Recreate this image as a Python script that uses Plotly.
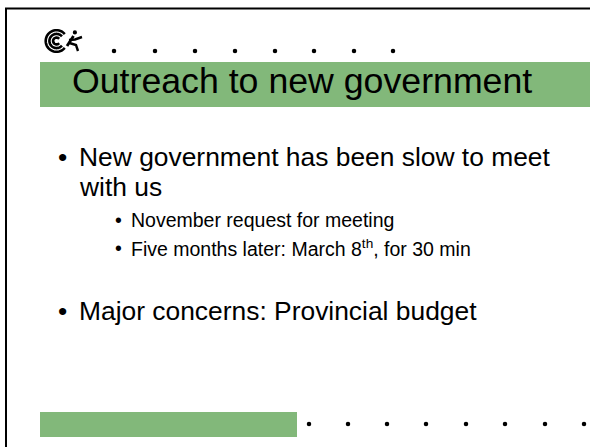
import numpy as np
import plotly.graph_objects as go

# slide text
title = "Outreach to new government"
bullets = ["New government has been slow to meet", "with us"]
sub_bullets = ["November request for meeting",
               "Five months later: March 8<sup>th</sup>, for 30 min"]
last_bullet = "Major concerns: Provincial budget"

# dotted rules
top_dots_x = [114, 155, 195, 235, 275, 314, 354, 393]
bottom_dots_x = [309, 348, 387, 426, 466, 505, 545, 584]

W, H = 590, 447
green = "#82B87A"
font = "Liberation Sans, Arial, sans-serif"

fig = go.Figure()

fig.add_trace(go.Scatter(x=top_dots_x, y=[51] * len(top_dots_x), mode="markers",
                         marker=dict(size=4.5, color="black"), hoverinfo="skip"))
fig.add_trace(go.Scatter(x=bottom_dots_x, y=[424] * len(bottom_dots_x), mode="markers",
                         marker=dict(size=4.5, color="black"), hoverinfo="skip"))

shapes = []
# slide border (left + top)
shapes.append(dict(type="path", path="M 6 447 L 6 8.5 L 590 8.5",
                   line=dict(color="black", width=2)))
# title bar and footer bar
shapes.append(dict(type="rect", x0=40, x1=590, y0=62, y1=107,
                   fillcolor=green, line=dict(width=0), layer="below"))
shapes.append(dict(type="rect", x0=40, x1=297, y0=412, y1=437,
                   fillcolor=green, line=dict(width=0), layer="below"))


# logo: concentric arcs with a little runner
def arc(cx, cy, r, a0=40, a1=320, n=40):
    t = np.radians(np.linspace(a0, a1, n))
    pts = [f"{cx + r*np.cos(a):.2f} {cy + r*np.sin(a):.2f}" for a in t]
    return "M " + " L ".join(pts)


for r in [3.4, 7.1, 10.8]:
    shapes.append(dict(type="path", path=arc(56.5, 41, r),
                       line=dict(color="black", width=2.6)))
shapes.append(dict(type="circle", x0=72.8, x1=77, y0=30.3, y1=34.5,
                   fillcolor="black", line=dict(width=0)))
shapes.append(dict(type="path", path="M 73.5 36 L 67 46",
                   line=dict(color="black", width=2.8)))
shapes.append(dict(type="path", path="M 69 40 L 75 39.5 L 82 37",
                   line=dict(color="black", width=2.4)))
shapes.append(dict(type="path", path="M 69.5 43 L 76 45 L 78 51",
                   line=dict(color="black", width=2.4)))

ann = []


def text(x, y, s, size, anchor="left"):
    ann.append(dict(x=x, y=y, text=s, showarrow=False, xanchor=anchor, yanchor="middle",
                    font=dict(family=font, size=size, color="black")))


text(70, 93 - 0.35 * 35.7, title, 35.7)

main_fs, sub_fs = 26.4, 19.5
text(62, 166 - 0.35 * main_fs, "•", main_fs, "center")
text(77, 166 - 0.35 * main_fs, bullets[0], main_fs)
text(77, 196 - 0.35 * main_fs, bullets[1], main_fs)
for yb, s in zip([227, 255], sub_bullets):
    text(118, yb - 0.35 * sub_fs, "•", sub_fs, "center")
    text(129, yb - 0.35 * sub_fs, s, sub_fs)
text(62, 320 - 0.35 * main_fs, "•", main_fs, "center")
text(77, 320 - 0.35 * main_fs, last_bullet, main_fs)

fig.update_layout(
    width=W, height=H,
    margin=dict(l=0, r=0, t=0, b=0),
    paper_bgcolor="white", plot_bgcolor="white",
    showlegend=False,
    shapes=shapes, annotations=ann,
    xaxis=dict(range=[0, W], visible=False, fixedrange=True),
    yaxis=dict(range=[H, 0], visible=False, fixedrange=True),
)

fig.write_html("out.html", config={"displayModeBar": False},
               post_script="document.body.style.margin='0';document.body.style.overflow='hidden';")
